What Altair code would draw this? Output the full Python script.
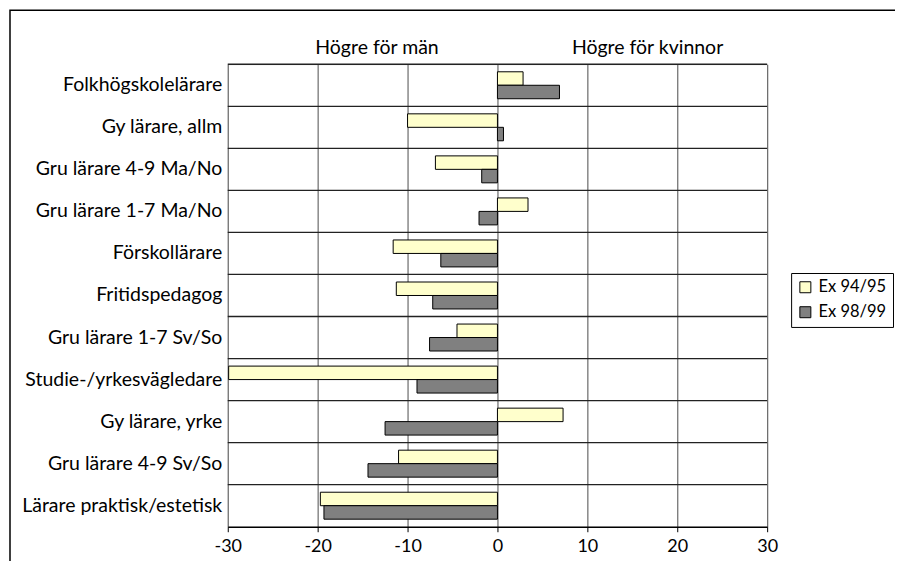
import altair as alt
import pandas as pd

categories = [
    "Folkhögskolelärare",
    "Gy lärare, allm",
    "Gru lärare 4-9 Ma/No",
    "Gru lärare 1-7 Ma/No",
    "Förskollärare",
    "Fritidspedagog",
    "Gru lärare 1-7 Sv/So",
    "Studie-/yrkesvägledare",
    "Gy lärare, yrke",
    "Gru lärare 4-9 Sv/So",
    "Lärare praktisk/estetisk",
]
ex_94_95 = [2.85, -10.0, -6.9, 3.4, -11.6, -11.25, -4.5, -29.9, 7.3, -11.0, -19.7]
ex_98_99 = [6.9, 0.67, -1.75, -2.05, -6.3, -7.2, -7.55, -8.95, -12.5, -14.4, -19.3]
series = ["Ex 94/95", "Ex 98/99"]
colors = ["#FFFFCC", "#808080"]
x_ticks = [-30, -20, -10, 0, 10, 20, 30]
header_text = ["Högre för män", "Högre för kvinnor"]
header_x = [-13.4, 16.7]

FONT = "Lato"
FS = 18
FS_LAB = 19.5
FS_LEG = 16.5

rows = []
for c, a, b in zip(categories, ex_94_95, ex_98_99):
    rows.append({"category": c, "series": series[0], "value": a})
    rows.append({"category": c, "series": series[1], "value": b})
df = pd.DataFrame(rows)

xscale = alt.Scale(domain=[-30, 30], nice=False, zero=False)
yscale = alt.Scale(domain=categories, paddingInner=0, paddingOuter=0)
yaxis = alt.Axis(
    title=None,
    ticks=False,
    domain=False,
    grid=False,
    labelFont=FONT,
    labelFontSize=FS_LAB,
    labelColor="black",
    labelPadding=6,
    labelLimit=300,
)

bars = alt.Chart(df).mark_bar(stroke="black", strokeWidth=1, cornerRadius=0).encode(
    x=alt.X(
        "value:Q",
        scale=xscale,
        axis=alt.Axis(
            values=x_ticks,
            labelExpr="'' + datum.value",
            labelFlush=False,
            title=None,
            grid=True,
            gridColor="#6a6a6a",
            gridWidth=1.2,
            domainColor="black",
            domainWidth=1.5,
            tickColor="black",
            tickSize=5,
            labelFont=FONT,
            labelFontSize=FS,
            labelColor="black",
            labelPadding=6,
        ),
    ),
    y=alt.Y("category:N", sort=categories, scale=yscale, axis=yaxis),
    yOffset=alt.YOffset("series:N", sort=series, scale=alt.Scale(paddingInner=0, paddingOuter=0.56)),
    color=alt.Color(
        "series:N",
        scale=alt.Scale(domain=series, range=colors),
        legend=alt.Legend(
            title=None,
            orient="none",
            legendX=564,
            legendY=209,
            strokeColor="black",
            fillColor="white",
            padding=6,
            cornerRadius=0,
            symbolType="square",
            symbolSize=121,
            symbolStrokeColor="black",
            symbolStrokeWidth=1,
            labelFont=FONT,
            labelFontSize=FS_LEG,
            labelColor="black",
            rowPadding=8,
            labelOffset=5,
        ),
    ),
)

cat_df = pd.DataFrame({"category": categories})
hlines = alt.Chart(cat_df).mark_rule(color="#222222", strokeWidth=1.3).encode(
    y=alt.Y("category:N", sort=categories, scale=yscale, bandPosition=0, axis=yaxis),
)

hdr_df = pd.DataFrame({"text": header_text, "x": header_x})
headers = alt.Chart(hdr_df).mark_text(
    font=FONT, fontSize=FS_LAB, color="black", align="center", baseline="middle"
).encode(
    x=alt.X("x:Q", scale=xscale),
    y=alt.value(-16),
    text="text:N",
)

frame = alt.Chart(pd.DataFrame({"a": [0]})).mark_rect(
    fill=None, stroke="black", strokeWidth=1.5, clip=False
).encode(
    x=alt.value(-218), x2=alt.value(720), y=alt.value(-54), y2=alt.value(560)
)

chart = alt.layer(hlines, bars, headers, frame).properties(
    width=540,
    height=463,
    autosize=alt.AutoSizeParams(type="none"),
    padding={"left": 220, "top": 56, "right": 128, "bottom": 34},
).configure_view(stroke="black", strokeWidth=1.5).configure(background="white")

chart.save("out.html", embed_options={"renderer": "svg", "actions": False})
